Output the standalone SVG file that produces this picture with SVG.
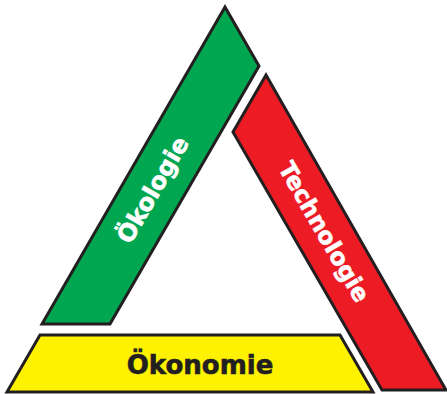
<svg xmlns="http://www.w3.org/2000/svg" width="447" height="394" viewBox="0 0 447 394">
<style>
.band{stroke:#231f20;stroke-width:3;stroke-linejoin:miter}
.lbl{font-family:"DejaVu Sans",sans-serif;font-weight:bold;text-anchor:middle;dominant-baseline:central;stroke-width:0.6}
</style>
<rect width="447" height="394" fill="#fff"/>
<g id="oekologie">
<polygon class="band" fill="#00a650" points="225,7 259,66 110,324 42,324"/>
<text class="lbl" fill="#fff" stroke="#fff" font-size="24" transform="translate(153,190) rotate(-60)">Ökologie</text>
</g>
<g id="technologie">
<polygon class="band" fill="#ed1c24" points="266,75 446,390 382,390 233,132"/>
<text class="lbl" fill="#fff" stroke="#fff" font-size="23.5" transform="translate(324,232) rotate(60)">Technologie</text>
</g>
<g id="oekonomie">
<polygon class="band" fill="#fff200" points="40,335 340,335 373,392 7,392"/>
<text class="lbl" fill="#231f20" stroke="#231f20" font-size="26" x="200" y="365">Ökonomie</text>
</g>
</svg>
